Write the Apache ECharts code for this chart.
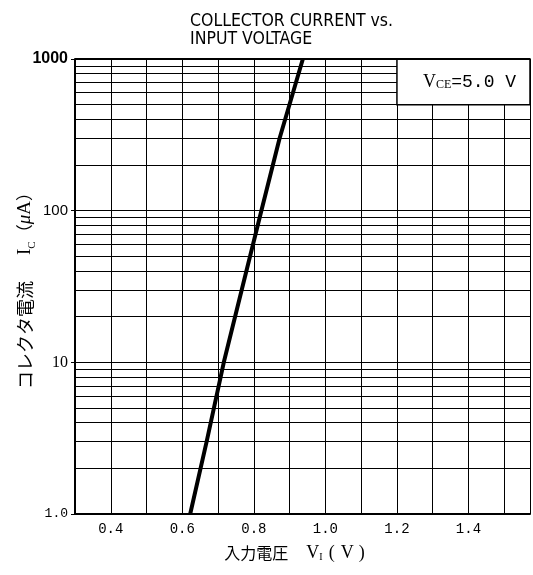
<!DOCTYPE html>
<html>
<head>
<meta charset="utf-8">
<script src="https://cdn.jsdelivr.net/npm/echarts@6/dist/echarts.min.js"></script>
<style>html,body{margin:0;padding:0;background:#fff;}#c{width:533px;height:575px;}</style>
</head>
<body>
<div id="c"></div>
<script>
// ---- data ----
const xTickLabels = ['0.4', '0.6', '0.8', '1.0', '1.2', '1.4'];
const yTickLabels = ['1.0', '10', '100', '1000'];
const currentUA = [1, 3, 10, 30, 100, 300, 1000];
const inputVoltageV = [0.622, 0.668, 0.716, 0.766, 0.821, 0.872, 0.937];
const minorGridValues = [2, 3, 4, 5, 6, 7, 8, 9, 20, 30, 40, 50, 60, 70, 80, 90, 200, 300, 400, 500, 600, 700, 800, 900];
const X_MIN = 0.3, X_MAX = 1.572;
const BOX_X = 1.2, BOX_Y = 500;

const chart = echarts.init(document.getElementById('c'), null, {renderer: 'canvas'});

const minorLines = minorGridValues.map(v => {
  if (v > BOX_Y) return [{coord: [X_MIN, v]}, {coord: [BOX_X, v]}];
  return {yAxis: v};
});

const option = {
  backgroundColor: '#fff',
  animation: false,
  title: {
    text: 'COLLECTOR CURRENT vs.\nINPUT VOLTAGE',
    left: 185, top: 7,
    textStyle: {
      fontFamily: "'Liberation Sans Narrow', 'DejaVu Sans Condensed', Arial, sans-serif",
      fontSize: 17.5, lineHeight: 18.5, fontWeight: 'normal', color: '#000'
    }
  },
  grid: {left: 75, right: 0, top: 59, bottom: 61, containLabel: false},
  xAxis: {
    type: 'value', min: X_MIN, max: X_MAX, interval: 0.1,
    axisLine: {lineStyle: {color: '#000', width: 2}},
    axisTick: {show: false},
    splitLine: {show: true, lineStyle: {color: '#000', width: 1}},
    axisLabel: {
      margin: 8, color: '#000', fontFamily: "'Liberation Mono', monospace", fontSize: 14,
      formatter: v => { const s = v.toFixed(1); return xTickLabels.indexOf(s) >= 0 && Math.abs(v - +s) < 1e-6 ? s : ''; }
    },
    name: '{j|入力電圧}{s|　}{l|V}{sub|I}{p|(}{q|V}{l|)}',
    nameLocation: 'middle', nameGap: 30, nameMoveOverlap: false,
    nameTextStyle: {
      padding: [0, 16, 0, 0],
      rich: {
        j: {fontFamily: "'Noto Sans CJK JP'", fontSize: 16, color: '#000'},
        s: {fontFamily: "'Noto Sans CJK JP'", fontSize: 18},
        l: {fontFamily: "'Liberation Serif', serif", fontSize: 18, color: '#000'},
        q: {fontFamily: "'Liberation Serif', serif", fontSize: 18, color: '#000', padding: [0, 5, 0, 6]},
        sub: {fontFamily: "'Liberation Serif', serif", fontSize: 10, color: '#000', verticalAlign: 'bottom', padding: [6, 0, 0, 0]},
        p: {fontFamily: "'Liberation Serif', serif", fontSize: 18, color: '#000', padding: [0, 0, 0, 6]}
      }
    }
  },
  yAxis: {
    type: 'log', logBase: 10, min: 1, max: 1000,
    axisLine: {lineStyle: {color: '#000', width: 2}},
    axisTick: {show: true, length: 4, lineStyle: {color: '#000', width: 1}},
    splitLine: {show: true, lineStyle: {color: '#000', width: 1}},
    axisLabel: {
      margin: 7,
      formatter: v => {
        const i = Math.round(Math.log10(v));
        const t = yTickLabels[i];
        return ['{d|', '{c|', '{b|', '{a|'][i] + t + '}';
      },
      rich: {
        a: {fontFamily: "'Liberation Sans', Arial", fontWeight: 'bold', fontSize: 16, color: '#000'},
        b: {fontFamily: "'Liberation Sans', Arial", fontSize: 15, color: '#000'},
        c: {fontFamily: "'Liberation Serif', serif", fontSize: 16, color: '#000'},
        d: {fontFamily: "'Liberation Mono', monospace", fontSize: 13, color: '#000'}
      }
    },
    name: '{j|コレクタ電流}{s|　}{l|I}{sub|C}{p|（}{m|μ}{l|A}{p|）}',
    nameLocation: 'middle', nameGap: 37, nameRotate: 90, nameMoveOverlap: false,
    nameTextStyle: {
      rich: {
        j: {fontFamily: "'Noto Sans CJK JP'", fontSize: 18, color: '#000'},
        s: {fontFamily: "'Noto Sans CJK JP'", fontSize: 26},
        l: {fontFamily: "'Liberation Serif', serif", fontSize: 19, color: '#000'},
        m: {fontFamily: "'Liberation Serif', serif", fontStyle: 'italic', fontSize: 19, color: '#000'},
        sub: {fontFamily: "'Liberation Serif', serif", fontSize: 11, color: '#000', verticalAlign: 'bottom', padding: [6, 0, 0, 0]},
        p: {fontFamily: "'Noto Sans CJK JP'", fontSize: 17, color: '#000'}
      }
    }
  },
  series: [
    {
      type: 'line', data: [], silent: true, z: 2,
      markLine: {
        silent: true, symbol: ['none', 'none'], animation: false,
        label: {show: false},
        lineStyle: {color: '#000', width: 1, type: 'solid'},
        data: minorLines.concat([{yAxis: 1000, lineStyle: {width: 2}}])
      }
    },
    {
      type: 'line', data: [], silent: true, z: 3,
      markArea: {
        silent: true,
        itemStyle: {color: '#fff', borderColor: '#000', borderWidth: 1.5},
        label: {
          show: true, position: 'inside', padding: [0, 0, 0, 12],
          formatter: '{v|V}{sub|CE}{m|=5.0 V}',
          rich: {
            v: {fontFamily: "'Liberation Serif', serif", fontSize: 18, color: '#000'},
            sub: {fontFamily: "'Liberation Serif', serif", fontSize: 12, color: '#000', verticalAlign: 'bottom', padding: [5, 0, 0, 0]},
            m: {fontFamily: "'Liberation Mono', monospace", fontSize: 18, color: '#000'}
          }
        },
        data: [[{coord: [BOX_X, BOX_Y]}, {coord: [X_MAX, 1000]}]]
      }
    },
    {
      type: 'line', z: 5, symbol: 'none', smooth: false,
      lineStyle: {color: '#000', width: 4},
      data: inputVoltageV.map((x, i) => [x, currentUA[i]])
    }
  ]
};
chart.setOption(option);
</script>
</body>
</html>
